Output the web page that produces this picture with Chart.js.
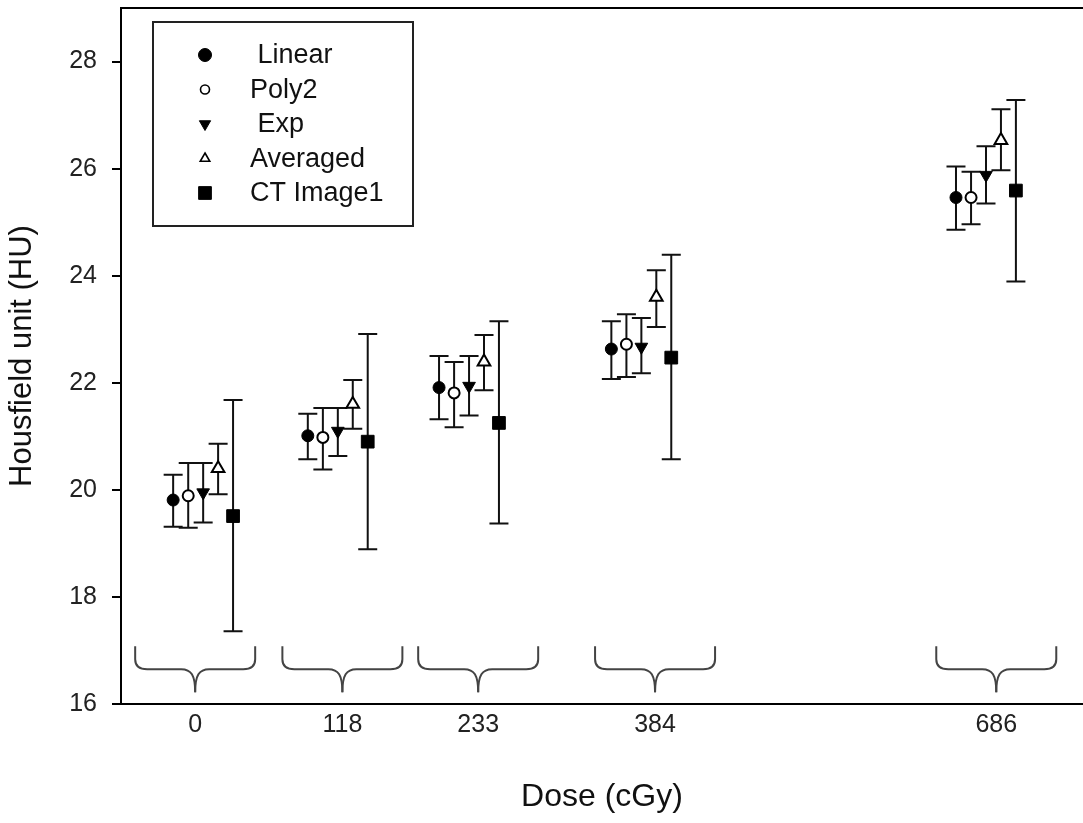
<!DOCTYPE html>
<html>
<head>
<meta charset="utf-8">
<script src="https://cdn.jsdelivr.net/npm/chart.js@4.4.1/dist/chart.umd.min.js"></script>
<style>
  html, body { margin: 0; padding: 0; background: #fff; }
  #wrap { width: 1083px; height: 823px; }
</style>
</head>
<body>
<div id="wrap"><canvas id="doseChart" width="1083" height="823"></canvas></div>
<script>
// dose groups (cGy), and where each group label / brace sits on the x axis
const doses = [0, 118, 233, 384, 686];
const doseLabels = ["0", "118", "233", "384", "686"];
const groupPos = [-7, 122, 241, 396, 695];
const yTicks = [16, 18, 20, 22, 24, 26, 28];

// brace heights under each group (HU): arm top, middle, tip
const braceY = [17.08, 16.65, 16.22];

const seriesNames = [" Linear", "Poly2", " Exp", "Averaged", "CT Image1"];

const linearMean = [19.81, 21.01, 21.91, 22.63, 25.46];
const linearLow  = [19.31, 20.57, 21.32, 22.07, 24.86];
const linearHigh = [20.28, 21.42, 22.50, 23.15, 26.04];

const poly2Mean = [19.89, 20.98, 21.81, 22.72, 25.46];
const poly2Low  = [19.29, 20.38, 21.17, 22.11, 24.96];
const poly2High = [20.50, 21.53, 22.39, 23.28, 25.94];

const expMean = [19.95, 21.10, 21.94, 22.67, 25.88];
const expLow  = [19.39, 20.63, 21.39, 22.18, 25.35];
const expHigh = [20.50, 21.53, 22.50, 23.21, 26.42];

const avgMean = [20.40, 21.60, 22.39, 23.60, 26.53];
const avgLow  = [19.92, 21.14, 21.86, 23.04, 25.97];
const avgHigh = [20.86, 22.05, 22.89, 24.10, 27.11];

const ctMean = [19.51, 20.90, 21.25, 22.47, 25.59];
const ctLow  = [17.36, 18.89, 19.37, 20.57, 23.89];
const ctHigh = [21.68, 22.91, 23.15, 24.39, 27.28];

// side-by-side spread of the five series inside a dose group
const spread = [-26.3, -13.1, 0, 13.1, 26.2];

const FONT = '"Liberation Sans", Arial, sans-serif';

const markers = [
  { pointStyle: 'circle',   radius: 6,   fill: '#000', rotation: 0,   legendRadius: 6.5 },
  { pointStyle: 'circle',   radius: 5.5, fill: '#fff', rotation: 0,   legendRadius: 4.5 },
  { pointStyle: 'triangle', radius: 7.3, fill: '#000', rotation: 180, legendRadius: 6.5 },
  { pointStyle: 'triangle', radius: 7.3, fill: '#fff', rotation: 0,   legendRadius: 5.5 },
  { pointStyle: 'rect',     radius: 9,   fill: '#000', rotation: 0,   legendRadius: 9 }
];

const means = [linearMean, poly2Mean, expMean, avgMean, ctMean];
const lows = [linearLow, poly2Low, expLow, avgLow, ctLow];
const highs = [linearHigh, poly2High, expHigh, avgHigh, ctHigh];

const datasets = seriesNames.map((name, i) => ({
  label: name,
  data: doses.map((d, j) => ({ x: d + spread[i], y: means[i][j], lo: lows[i][j], hi: highs[i][j] })),
  pointStyle: markers[i].pointStyle,
  pointRadius: markers[i].radius,
  pointRotation: markers[i].rotation,
  pointBackgroundColor: markers[i].fill,
  pointBorderColor: '#000',
  pointBorderWidth: markers[i].fill === '#fff' ? 2 : 1,
  showLine: false,
  marker: markers[i]
}));

const errorBars = {
  id: 'errorBars',
  beforeDatasetsDraw(chart) {
    const { ctx, scales: { x, y } } = chart;
    ctx.save();
    ctx.strokeStyle = '#111';
    ctx.lineWidth = 2;
    chart.data.datasets.forEach(ds => {
      ds.data.forEach(p => {
        const px = x.getPixelForValue(p.x);
        const top = y.getPixelForValue(p.hi);
        const bot = y.getPixelForValue(p.lo);
        ctx.beginPath();
        ctx.moveTo(px, top); ctx.lineTo(px, bot);
        ctx.moveTo(px - 9.5, top); ctx.lineTo(px + 9.5, top);
        ctx.moveTo(px - 9.5, bot); ctx.lineTo(px + 9.5, bot);
        ctx.stroke();
      });
    });
    ctx.restore();
  }
};

const braces = {
  id: 'braces',
  afterDatasetsDraw(chart) {
    const { ctx, scales: { x, y } } = chart;
    const half = 60;
    const yt = y.getPixelForValue(braceY[0]);
    const ym = y.getPixelForValue(braceY[1]);
    const yp = y.getPixelForValue(braceY[2]);
    ctx.save();
    ctx.strokeStyle = '#444';
    ctx.lineWidth = 2;
    groupPos.forEach(g => {
      const cx = x.getPixelForValue(g);
      [-1, 1].forEach(s => {
        const ex = cx + s * half;
        ctx.beginPath();
        ctx.moveTo(ex, yt);
        ctx.lineTo(ex, ym - 10);
        ctx.quadraticCurveTo(ex, ym, ex - s * 12, ym);
        ctx.lineTo(cx + s * 14, ym);
        ctx.bezierCurveTo(cx + s * 4, ym, cx, ym + 6, cx, yp);
        ctx.stroke();
      });
    });
    ctx.restore();
  }
};

const frameAndLegend = {
  id: 'frameAndLegend',
  afterDraw(chart) {
    const { ctx, chartArea: a } = chart;
    ctx.save();
    // top frame line
    ctx.strokeStyle = '#000';
    ctx.lineWidth = 2;
    ctx.beginPath();
    ctx.moveTo(a.left, a.top); ctx.lineTo(a.right, a.top);
    ctx.stroke();

    // legend box
    const bx = a.left + 32, by = a.top + 14, bw = 260, bh = 204;
    ctx.strokeStyle = '#222';
    ctx.strokeRect(bx, by, bw, bh);
    chart.data.datasets.forEach((ds, i) => {
      const my = by + 33 + i * 34.5;
      const m = ds.marker;
      ctx.fillStyle = m.fill;
      ctx.strokeStyle = '#000';
      ctx.lineWidth = m.fill === '#fff' ? 1.6 : 1;
      Chart.helpers.drawPoint(ctx, {
        pointStyle: m.pointStyle, radius: m.legendRadius,
        rotation: m.rotation, borderWidth: ctx.lineWidth
      }, bx + 52, my);
      ctx.fillStyle = '#111';
      ctx.font = '27px ' + FONT;
      ctx.textAlign = 'left';
      ctx.textBaseline = 'middle';
      ctx.fillText(ds.label, bx + 97, my + 1);
    });
    ctx.restore();
  }
};

new Chart(document.getElementById('doseChart'), {
  type: 'scatter',
  data: { datasets },
  plugins: [errorBars, braces, frameAndLegend],
  options: {
    responsive: false,
    animation: false,
    layout: { autoPadding: false, padding: { top: 8, right: 0, bottom: 0, left: 0 } },
    plugins: { legend: { display: false }, tooltip: { enabled: false } },
    scales: {
      x: {
        type: 'linear', min: -72, max: 771,
        afterBuildTicks: s => { s.ticks = groupPos.map(v => ({ value: v })); },
        afterFit: s => { s.height = 119; s.paddingLeft = 0; s.paddingRight = 0; },
        ticks: {
          autoSkip: false, maxRotation: 0, padding: 6, color: '#222',
          font: { family: FONT, size: 25 },
          callback: (v, i) => doseLabels[i]
        },
        grid: { drawOnChartArea: false, drawTicks: false },
        border: { display: true, color: '#000', width: 2 },
        title: {
          display: true, text: 'Dose (cGy)', color: '#111',
          font: { family: FONT, size: 32 }, padding: { top: 0, bottom: 7 }
        }
      },
      y: {
        type: 'linear', min: 16, max: 29,
        afterBuildTicks: s => { s.ticks = yTicks.map(v => ({ value: v })); },
        afterFit: s => { s.width = 121; s.paddingTop = 0; s.paddingBottom = 0; },
        ticks: { padding: 15, color: '#222', font: { family: FONT, size: 25 } },
        grid: { drawOnChartArea: false, drawTicks: true, tickLength: 9, color: '#000', lineWidth: 2 },
        border: { display: true, color: '#000', width: 2 },
        title: {
          display: true, text: 'Housfield unit (HU)', color: '#111',
          font: { family: FONT, size: 31 }, padding: { top: 4, bottom: 0 }
        }
      }
    }
  }
});
</script>
</body>
</html>
